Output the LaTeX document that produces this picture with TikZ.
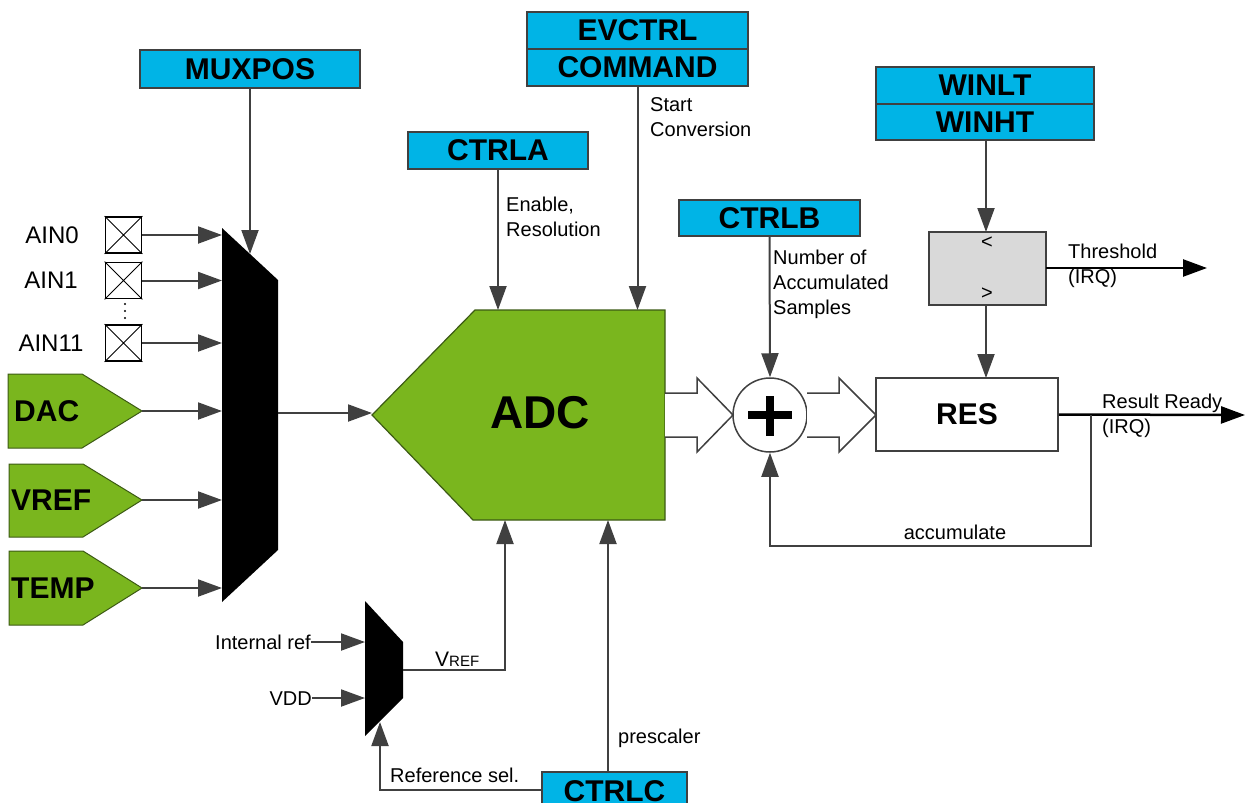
\documentclass[tikz,border=0pt]{standalone}
\usepackage{fontspec}
\setmainfont{Liberation Sans}
\usetikzlibrary{arrows.meta,calc}
\definecolor{regblue}{RGB}{0,180,230}
\definecolor{adcgreen}{RGB}{122,182,30}
\definecolor{wgray}{RGB}{64,64,64}
\definecolor{cmpgray}{RGB}{217,217,217}
\definecolor{gborder}{RGB}{60,90,20}
\begin{document}
\begin{tikzpicture}[x=1pt,y=-1pt,
  reg/.style={draw=wgray,fill=regblue,line width=1.5pt,inner sep=0pt,
    font=\bfseries\fontsize{30}{30}\selectfont},
  arr/.style={draw=wgray,line width=2pt,-{Triangle[length=24pt,width=17pt]},color=wgray},
  barr/.style={draw=black,line width=2.5pt,-{Triangle[length=24pt,width=17pt]},color=black},
  wire/.style={draw=wgray,line width=2pt},
  lbl/.style={font=\fontsize{20}{25}\selectfont,align=left,inner sep=0pt},
  ain/.style={font=\fontsize{24}{24}\selectfont,inner sep=0pt},
  xbox/.style={draw=black,line width=1.8pt,minimum size=36pt,inner sep=0pt,fill=white},
  gsrc/.style={fill=adcgreen,draw=gborder,line width=1pt},
  gtxt/.style={font=\bfseries\fontsize{30}{30}\selectfont,inner sep=0pt,anchor=west},
  hollow/.style={draw=wgray,line width=1.5pt,fill=white,line join=miter},
]
\useasboundingbox (0,0) rectangle (1245,803);

% ---------- register boxes ----------
\node[reg,minimum width=220pt,minimum height=38pt] (muxpos) at (250,69) {MUXPOS};
\node[reg,minimum width=221pt,minimum height=37pt] (evctrl) at (637.5,30.5) {EVCTRL};
\node[reg,minimum width=221pt,minimum height=37pt] (command) at (637.5,67.5) {COMMAND};
\node[reg,minimum width=180pt,minimum height=37pt] (ctrla) at (498,150.5) {CTRLA};
\node[reg,minimum width=181pt,minimum height=36pt] (ctrlb) at (769.5,218) {CTRLB};
\node[reg,minimum width=218pt,minimum height=37pt] (winlt) at (985,85.5) {WINLT};
\node[reg,minimum width=218pt,minimum height=36pt] (winht) at (985,122) {WINHT};
\node[reg,minimum width=145pt,minimum height=38pt] (ctrlc) at (614.5,791) {CTRLC};

% ---------- analog input mux ----------
\fill[black] (222,228) -- (278,280) -- (278,550) -- (222,602) -- cycle;
\coordinate (muxtop) at (250,254);
\coordinate (muxout) at (278,413);

% AIN pins
\node[xbox] (a0) at (123.5,235) {};
\node[xbox] (a1) at (123.5,280.5) {};
\node[xbox] (a11) at (123.5,343) {};
\foreach \b in {a0,a1,a11}{
  \draw[line width=0.8pt] (\b.north west) -- (\b.south east) (\b.north east) -- (\b.south west);
}
\node[ain,anchor=base] (la0) at (52,243) {AIN0};
\node[ain,anchor=base] (la1) at (51,288) {AIN1};
\node[ain,anchor=base] (la11) at (51,351) {AIN11};
\foreach \yy in {304,311,318} \fill (125,\yy) circle (1.2pt);

% green sources
\draw[gsrc] (8,374) -- (82,374) -- (142,411) -- (82,448) -- (8,448) -- cycle;
\coordinate (dac) at (142,411);
\node[gtxt] (tdac) at (14,411) {DAC};
\draw[gsrc] (9,464) -- (83,464) -- (142,500) -- (83,537) -- (9,537) -- cycle;
\coordinate (vref) at (142,500);
\node[gtxt] (tvref) at (11,500) {VREF};
\draw[gsrc] (9,551) -- (83,551) -- (142,588) -- (83,625) -- (9,625) -- cycle;
\coordinate (temp) at (142,588);
\node[gtxt] (ttemp) at (11,588) {TEMP};

\foreach \s/\yy in {a0/235,a1/280.5,a11/343,dac/411,vref/500,temp/588}{
  \coordinate (in\s) at (222,\yy);
}
\draw[arr] (a0.east) -- (ina0);
\draw[arr] (a1.east) -- (ina1);
\draw[arr] (a11.east) -- (ina11);
\draw[arr] (dac) -- (indac);
\draw[arr] (vref) -- (invref);
\draw[arr] (temp) -- (intemp);
\draw[arr] (muxpos.south) -- (muxtop);

% ---------- ADC ----------
\draw[fill=adcgreen,draw=gborder,line width=1.2pt]
  (372,415) -- (475,310) -- (665,310) -- (665,520) -- (473,520) -- cycle;
\coordinate (adcin) at (372,413);
\node[font=\bfseries\fontsize{46}{46}\selectfont,inner sep=0pt] (adc) at (540,413) {ADC};
\draw[arr] (muxout) -- (adcin);
\draw[arr] (ctrla.south) -- (ctrla.south |- 0,310);
\draw[arr] (command.south) -- (command.south |- 0,310);

\node[lbl,anchor=north west] (len) at (506,197) {Enable,\\Resolution};
\node[lbl,anchor=north west] (lsc) at (650,97) {Start\\Conversion};

% ---------- reference mux ----------
\fill[black] (365,601) -- (403,642) -- (403,698) -- (365,736) -- cycle;
\coordinate (rin1) at (365,642);
\coordinate (rin2) at (365,698);
\coordinate (rout) at (403,670);
\coordinate (rsel) at (380,722);
\node[lbl,anchor=base east] (lint) at (311,649) {Internal ref};
\node[lbl,anchor=base east] (lvdd) at (312,705) {VDD};
\draw[arr] (lint.east |- rin1) -- (rin1);
\draw[arr] (lvdd.east |- rin2) -- (rin2);
\draw[arr] (rout) -- (505,670) -- (505,520);
\node[inner sep=0pt,anchor=base west] (lvr) at (435,666)
  {{\fontsize{21}{21}\selectfont V}{\fontsize{15}{15}\selectfont REF}};
\coordinate (cpre) at (608,772);
\draw[arr] (cpre) -- (608,520);
\node[lbl,anchor=base west] (lpre) at (618,743) {prescaler};
\draw[arr] (ctrlc.west |- 0,790) -- (380,790) -- (rsel);
\node[lbl,anchor=base west] (lrs) at (390,782) {Reference sel.};

% ---------- accumulator ----------
\node[circle,draw=wgray,line width=1.5pt,minimum size=74pt,inner sep=0pt,fill=white] (sum) at (770,415) {};
\draw[line width=7.5pt] (748,415) -- (792,415) (770,396) -- (770,436);
\draw[hollow] (665,393) -- (697,393) -- (697,378) -- (733,415) -- (697,452) -- (697,437) -- (665,437);
\draw[hollow] (807,393) -- (839,393) -- (839,378) -- (876,415) -- (839,452) -- (839,437) -- (807,437);
\draw[arr] (ctrlb.south) -- (sum.north);
\node[lbl,anchor=north west] (lnum) at (773,250) {Number of\\Accumulated\\Samples};

% ---------- RES and window compare ----------
\node[draw=wgray,line width=1.5pt,minimum width=182pt,minimum height=73pt,inner sep=0pt,
  font=\bfseries\fontsize{30}{30}\selectfont] (res) at (967,414.5) {RES};
\node[draw=wgray,fill=cmpgray,line width=1.5pt,minimum width=117pt,minimum height=73pt,inner sep=0pt] (cmp) at (987.5,268.5) {};
\node[font=\fontsize{20}{20}\selectfont,inner sep=0pt] (lt) at (987,243) {<};
\node[font=\fontsize{20}{20}\selectfont,inner sep=0pt] (gt) at (987,294) {>};
\draw[arr] (winht.south -| 986,0) -- (986,232);
\draw[arr] (986,305) -- (986,378);
\coordinate (thr) at (1207,268);
\draw[barr] (1046,268) -- (thr);
\node[lbl,anchor=north west] (lthr) at (1068,244) {Threshold\\(IRQ)};
\coordinate (rr) at (1245,415);
\draw[barr] (res.east) -- (rr);
\node[lbl,anchor=north west] (lrr) at (1102,394) {Result Ready\\(IRQ)};
\draw[arr] (1091,415) -- (1091,546) -- (770,546) -- (sum.south);
\node[lbl,anchor=base] (lacc) at (955,539) {accumulate};
\end{tikzpicture}
\end{document}
